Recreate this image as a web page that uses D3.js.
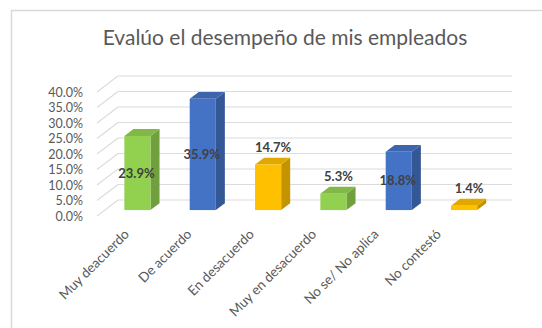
<!DOCTYPE html>
<html>
<head>
<meta charset="utf-8">
<script src="https://cdn.jsdelivr.net/npm/d3@7/dist/d3.min.js"></script>
<style>
  html, body { margin: 0; padding: 0; background: #ffffff; }
  svg { display: block; font-family: Lato, "Open Sans", sans-serif; }
</style>
</head>
<body>
<svg id="chart" width="542" height="328"></svg>
<script>
// Survey answers: "Evalúo el desempeño de mis empleados"
const categories = ["Muy deacuerdo", "De acuerdo", "En desacuerdo", "Muy en desacuerdo", "No se/ No aplica", "No contestó"];
const values = [23.9, 35.9, 14.7, 5.3, 18.8, 1.4];
const barColors = ["#92d050", "#4472c4", "#ffc000", "#92d050", "#4472c4", "#ffc000"];
const yTicks = [0, 5, 10, 15, 20, 25, 30, 35, 40];
const title = "Evalúo el desempeño de mis empleados";

const svg = d3.select("#chart");

// outer chart frame
svg.append("rect")
  .attr("x", 11.5).attr("y", 10.5)
  .attr("width", 620).attr("height", 400)
  .attr("fill", "#ffffff")
  .attr("stroke", "#d9d9d9").attr("stroke-width", 1.5);

// title
svg.append("text")
  .attr("x", 285).attr("y", 45)
  .attr("text-anchor", "middle")
  .attr("font-size", 21)
  .attr("fill", "#595959")
  .text(title);

// 3D layout: front plane scales plus a depth vector toward the back wall
const x = d3.scalePoint().domain(categories).range([97, 489]).padding(0.5);
const y = d3.scaleLinear().domain([0, 40]).range([216, 92]);
const DX = 21, DY = -16;          // full depth of the floor
const t1 = 0.37, t2 = 0.8;        // bar front / back along the depth
const barW = x.step() * 0.4;

// category labels sit slightly tighter than the bars below the floor
const xLabel = d3.scalePoint().domain(categories).range([96.8, 471.2]).padding(0.5);

// back wall and side wall gridlines
const grid = svg.append("g").attr("stroke", "#dcdcdc").attr("stroke-width", 1.2).attr("fill", "none");
yTicks.forEach(v => {
  const yf = y(v), yb = y(v) + DY;
  grid.append("line")
    .attr("x1", x.range()[0] + DX).attr("x2", x.range()[1] + DX + 2)
    .attr("y1", yb).attr("y2", yb);
  grid.append("line")
    .attr("x1", x.range()[0]).attr("y1", yf)
    .attr("x2", x.range()[0] + DX).attr("y2", yb);
});

// y axis tick labels on the front plane
svg.append("g").selectAll("text")
  .data(yTicks)
  .join("text")
  .attr("x", 83)
  .attr("y", d => y(d) + 4.5)
  .attr("text-anchor", "end")
  .attr("font-size", 12.5)
  .attr("fill", "#595959")
  .text(d => d.toFixed(1) + "%");

// bars as 3D boxes
const shade = (c, k) => d3.color(c).darker(k).formatHex();
const bars = svg.append("g");
categories.forEach((cat, i) => {
  const v = values[i];
  const c = barColors[i];
  const fx0 = x(cat) - barW / 2 + t1 * DX;
  const fx1 = fx0 + barW;
  const fyTop = y(v) + t1 * DY;
  const fyBot = y(0) + t1 * DY;
  const ddx = (t2 - t1) * DX, ddy = (t2 - t1) * DY;
  const g = bars.append("g");
  // side face
  g.append("polygon")
    .attr("points", [[fx1, fyTop], [fx1 + ddx, fyTop + ddy], [fx1 + ddx, fyBot + ddy], [fx1, fyBot]].join(" "))
    .attr("fill", shade(c, 0.75));
  // top face
  g.append("polygon")
    .attr("points", [[fx0, fyTop], [fx0 + ddx, fyTop + ddy], [fx1 + ddx, fyTop + ddy], [fx1, fyTop]].join(" "))
    .attr("fill", shade(c, 0.35));
  // front face
  g.append("rect")
    .attr("x", fx0).attr("y", fyTop)
    .attr("width", barW).attr("height", fyBot - fyTop)
    .attr("fill", c);

  // value label: inside tall bars, above short ones
  const inside = v >= 18;
  g.append("text")
    .attr("x", inside ? (fx0 + fx1) / 2 - 1 : (fx0 + fx1) / 2 + 5)
    .attr("y", inside ? (fyTop + fyBot) / 2 + 4.5 : fyTop - 13)
    .attr("text-anchor", "middle")
    .attr("font-size", 13)
    .attr("font-weight", "bold")
    .attr("fill", "#404040")
    .text(v.toFixed(1) + "%");
});

// rotated category labels
svg.append("g").selectAll("text")
  .data(categories)
  .join("text")
  .attr("transform", d => `translate(${xLabel(d) + 2},${235}) rotate(-45)`)
  .attr("text-anchor", "end")
  .attr("font-size", 13.5)
  .attr("fill", "#595959")
  .text(d => d);
</script>
</body>
</html>
